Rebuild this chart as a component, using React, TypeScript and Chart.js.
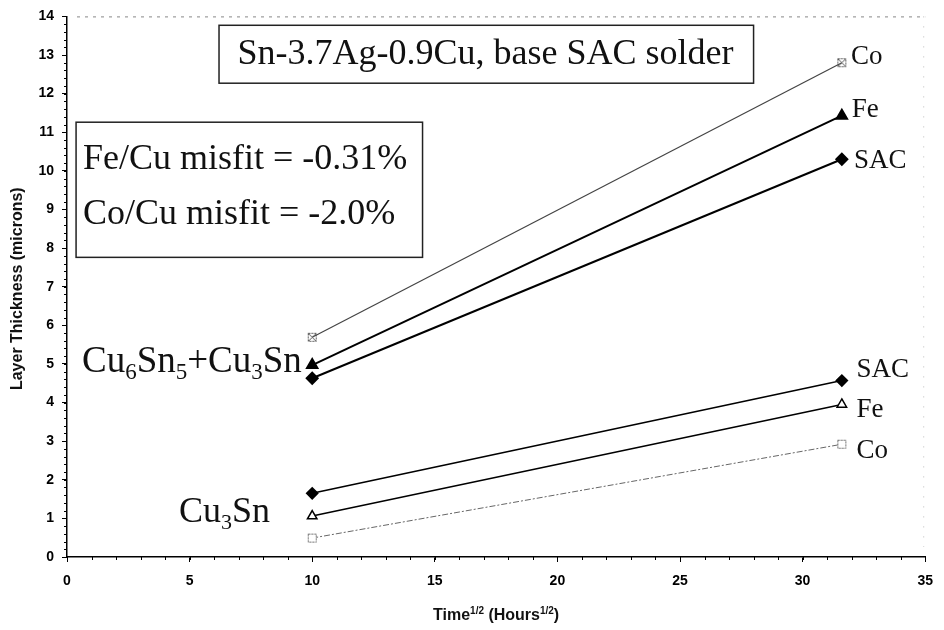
import React, { useEffect, useRef } from "react";
import { Chart, registerables } from "chart.js";

Chart.register(...registerables);

// ---- data ----
const timeSqrt = [10, 31.6];
const sacTotal = [4.63, 10.3];
const feTotal = [4.97, 11.43];
const coTotal = [5.69, 12.8];
const sacCu3Sn = [1.65, 4.57];
const feCu3Sn = [1.06, 3.95];
const coCu3Sn = [0.49, 2.92];

const xTicks = [0, 5, 10, 15, 20, 25, 30, 35];
const yTicks = [0, 1, 2, 3, 4, 5, 6, 7, 8, 9, 10, 11, 12, 13, 14];

const titleText = "Sn-3.7Ag-0.9Cu, base SAC solder";
const misfitLines = ["Fe/Cu misfit = -0.31%", "Co/Cu misfit = -2.0%"];
const seriesLabels = [
  { text: "Co", x: 31.97, y: 12.78 },
  { text: "Fe", x: 32.0, y: 11.39 },
  { text: "SAC", x: 32.1, y: 10.07 },
  { text: "SAC", x: 32.2, y: 4.66 },
  { text: "Fe", x: 32.2, y: 3.62 },
  { text: "Co", x: 32.2, y: 2.56 },
];

const pts = (ys: number[]) => ys.map((y, i) => ({ x: timeSqrt[i], y }));

function makeCrossSquare(): HTMLCanvasElement {
  const c = document.createElement("canvas");
  c.width = 11;
  c.height = 11;
  const g = c.getContext("2d")!;
  g.strokeStyle = "#555";
  g.lineWidth = 1;
  g.setLineDash([2, 1]);
  g.strokeRect(1.5, 1.5, 8, 8);
  g.setLineDash([]);
  g.beginPath();
  g.moveTo(2, 2);
  g.lineTo(9, 9);
  g.moveTo(9, 2);
  g.lineTo(2, 9);
  g.stroke();
  return c;
}
function makeDashSquare(): HTMLCanvasElement {
  const c = document.createElement("canvas");
  c.width = 11;
  c.height = 11;
  const g = c.getContext("2d")!;
  g.fillStyle = "#fff";
  g.fillRect(1, 1, 9, 9);
  g.strokeStyle = "#666";
  g.lineWidth = 1;
  g.setLineDash([2, 1]);
  g.strokeRect(1.5, 1.5, 8, 8);
  return c;
}

const SERIF = "'Liberation Serif', 'Times New Roman', serif";
const SANS = "'Liberation Sans', Arial, sans-serif";

const overlayPlugin = {
  id: "overlay",
  afterDraw(chart: any) {
    const ctx = chart.ctx as CanvasRenderingContext2D;
    const xs = chart.scales.x;
    const ys = chart.scales.y;
    const area = chart.chartArea;
    ctx.save();

    // faint dotted top / right frame (scan border)
    ctx.strokeStyle = "#888";
    ctx.lineWidth = 1;
    ctx.setLineDash([3, 5]);
    ctx.beginPath();
    ctx.moveTo(area.left + 10, area.top + 0.5);
    ctx.lineTo(area.right, area.top + 0.5);
    ctx.stroke();
    ctx.strokeStyle = "#bbb";
    ctx.setLineDash([1, 9]);
    ctx.beginPath();
    ctx.moveTo(area.right - 1.5, area.top);
    ctx.lineTo(area.right - 1.5, area.bottom - 10);
    ctx.stroke();
    ctx.setLineDash([]);

    // minor ticks
    ctx.strokeStyle = "#000";
    ctx.lineWidth = 1;
    ctx.beginPath();
    for (let v = 0; v <= 14.001; v += 0.2) {
      const py = Math.round(ys.getPixelForValue(v)) + 0.5;
      ctx.moveTo(area.left - 3, py);
      ctx.lineTo(area.left, py);
    }
    for (let v = 0; v <= 35.001; v += 1) {
      const px = Math.round(xs.getPixelForValue(v)) + 0.5;
      ctx.moveTo(px, area.bottom);
      ctx.lineTo(px, area.bottom + 3);
    }
    ctx.stroke();

    // title box
    ctx.lineWidth = 1.5;
    ctx.strokeStyle = "#222";
    const tx1 = xs.getPixelForValue(6.2);
    const tx2 = xs.getPixelForValue(28.0);
    const ty1 = ys.getPixelForValue(13.77);
    const ty2 = ys.getPixelForValue(12.27);
    ctx.strokeRect(tx1, ty1, tx2 - tx1, ty2 - ty1);
    ctx.fillStyle = "#111";
    ctx.font = `36px ${SERIF}`;
    ctx.textBaseline = "alphabetic";
    ctx.textAlign = "left";
    ctx.fillText(titleText, xs.getPixelForValue(6.95), ys.getPixelForValue(12.78));

    // misfit box
    const mx1 = xs.getPixelForValue(0.37);
    const mx2 = xs.getPixelForValue(14.5);
    const my1 = ys.getPixelForValue(11.26);
    const my2 = ys.getPixelForValue(7.76);
    ctx.strokeRect(mx1, my1, mx2 - mx1, my2 - my1);
    ctx.font = `36px ${SERIF}`;
    ctx.fillText(misfitLines[0], xs.getPixelForValue(0.65), ys.getPixelForValue(10.04));
    ctx.fillText(misfitLines[1], xs.getPixelForValue(0.65), ys.getPixelForValue(8.62));

    // phase labels with subscripts
    const drawSub = (parts: [string, boolean][], x: number, y: number, size: number) => {
      let cx = x;
      for (const [t, sub] of parts) {
        ctx.font = `${sub ? Math.round(size * 0.62) : size}px ${SERIF}`;
        ctx.fillText(t, cx, sub ? y + size * 0.2 : y);
        cx += ctx.measureText(t).width;
      }
    };
    drawSub(
      [["Cu", false], ["6", true], ["Sn", false], ["5", true], ["+Cu", false], ["3", true], ["Sn", false]],
      xs.getPixelForValue(0.61),
      ys.getPixelForValue(4.79),
      37
    );
    drawSub(
      [["Cu", false], ["3", true], ["Sn", false]],
      xs.getPixelForValue(4.57),
      ys.getPixelForValue(0.91),
      36
    );

    // series labels
    ctx.font = `27px ${SERIF}`;
    for (const l of seriesLabels) {
      ctx.fillText(l.text, xs.getPixelForValue(l.x), ys.getPixelForValue(l.y));
    }

    // axis titles
    ctx.font = `bold 16px ${SANS}`;
    ctx.save();
    ctx.translate(18, (area.top + area.bottom) / 2 + 2);
    ctx.rotate(-Math.PI / 2);
    ctx.textAlign = "center";
    ctx.textBaseline = "middle";
    ctx.fillText("Layer Thickness (microns)", 0, 0);
    ctx.restore();

    const xParts: [string, boolean][] = [["Time", false], ["1/2", true], [" (Hours", false], ["1/2", true], [")", false]];
    let total = 0;
    for (const [t, sup] of xParts) {
      ctx.font = `bold ${sup ? 10 : 16}px ${SANS}`;
      total += ctx.measureText(t).width;
    }
    let cx = (area.left + area.right) / 2 - total / 2;
    const by = 620;
    ctx.textAlign = "left";
    ctx.textBaseline = "alphabetic";
    for (const [t, sup] of xParts) {
      ctx.font = `bold ${sup ? 10 : 16}px ${SANS}`;
      ctx.fillText(t, cx, sup ? by - 6 : by);
      cx += ctx.measureText(t).width;
    }
    ctx.restore();
  },
};

export default function App() {
  const ref = useRef<HTMLCanvasElement | null>(null);
  useEffect(() => {
    document.body.style.margin = "0";
    const crossSq = makeCrossSquare();
    const dashSq = makeDashSquare();
    const chart = new Chart(ref.current!, {
      type: "line",
      data: {
        datasets: [
          {
            label: "Co total",
            data: pts(coTotal),
            borderColor: "#444",
            borderWidth: 1.2,
            pointStyle: crossSq as any,
            pointRadius: 5,
          },
          {
            label: "Fe total",
            data: pts(feTotal),
            borderColor: "#000",
            borderWidth: 2,
            pointStyle: "triangle",
            pointRadius: 6,
            pointBackgroundColor: "#000",
            pointBorderColor: "#000",
          },
          {
            label: "SAC total",
            data: pts(sacTotal),
            borderColor: "#000",
            borderWidth: 2,
            pointStyle: "rectRot",
            pointRadius: 5.5,
            pointBackgroundColor: "#000",
            pointBorderColor: "#000",
          },
          {
            label: "SAC Cu3Sn",
            data: pts(sacCu3Sn),
            borderColor: "#000",
            borderWidth: 1.6,
            pointStyle: "rectRot",
            pointRadius: 5.5,
            pointBackgroundColor: "#000",
            pointBorderColor: "#000",
          },
          {
            label: "Fe Cu3Sn",
            data: pts(feCu3Sn),
            borderColor: "#000",
            borderWidth: 1.6,
            pointStyle: "triangle",
            pointRadius: 5.5,
            pointBackgroundColor: "#fff",
            pointBorderColor: "#000",
            pointBorderWidth: 1.5,
          },
          {
            label: "Co Cu3Sn",
            data: pts(coCu3Sn),
            borderColor: "#666",
            borderWidth: 1,
            borderDash: [6, 2, 2, 2],
            pointStyle: dashSq as any,
            pointRadius: 5,
          },
        ],
      },
      options: {
        responsive: false,
        animation: false,
        layout: { padding: { top: 16, right: 12, left: 0, bottom: 0 } },
        plugins: {
          legend: { display: false },
          tooltip: { enabled: false },
          title: { display: false },
        },
        scales: {
          x: {
            type: "linear",
            min: 0,
            max: 35,
            afterBuildTicks: (s: any) => {
              s.ticks = xTicks.map((v) => ({ value: v }));
            },
            afterFit: (s: any) => {
              s.height = 73;
            },
            ticks: {
              color: "#000",
              font: { family: SANS, size: 14, weight: "bold" },
              padding: 11,
              maxRotation: 0,
            },
            grid: { drawOnChartArea: false, tickLength: 5, color: "#000", tickWidth: 1 },
            border: { display: true, color: "#000", width: 1.5 },
          },
          y: {
            type: "linear",
            min: 0,
            max: 14,
            afterBuildTicks: (s: any) => {
              s.ticks = yTicks.map((v) => ({ value: v }));
            },
            afterFit: (s: any) => {
              s.width = 67;
            },
            ticks: {
              color: "#000",
              font: { family: SANS, size: 14, weight: "bold" },
              padding: 8,
            },
            grid: { drawOnChartArea: false, tickLength: 5, color: "#000", tickWidth: 1 },
            border: { display: true, color: "#000", width: 1.5 },
          },
        },
      },
      plugins: [overlayPlugin],
    });
    return () => chart.destroy();
  }, []);
  return (
    <div style={{ width: 944, height: 630 }}>
      <canvas ref={ref} width={944} height={630} style={{ display: "block" }} />
    </div>
  );
}
